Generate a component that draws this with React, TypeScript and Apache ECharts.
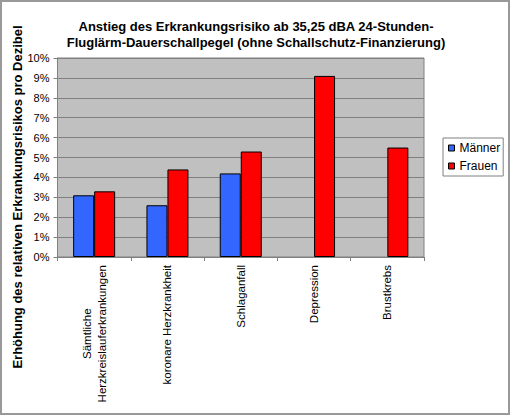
import React, { useEffect, useRef } from "react";
import * as echarts from "echarts";

const categories = [
  "Sämtliche\nHerzkreislauferkrankungen",
  "koronare Herzkrankheit",
  "Schlaganfall",
  "Depression",
  "Brustkrebs",
];
// percent increase per decibel
const maenner = [3.1, 2.6, 4.2, null, null];
const frauen = [3.3, 4.4, 5.3, 9.1, 5.5];

const FONT = '"Liberation Sans", Arial, sans-serif';

const App: React.FC = () => {
  const chartRef = useRef<HTMLDivElement>(null);

  useEffect(() => {
    document.body.style.margin = "0";
    if (!chartRef.current) return;
    const chart = echarts.init(chartRef.current, null, { renderer: "svg" });
    const option = {
      animation: false,
      backgroundColor: "#fff",
      textStyle: { fontFamily: FONT },
      title: {
        text: "Anstieg des Erkrankungsrisiko ab 35,25 dBA 24-Stunden-\nFluglärm-Dauerschallpegel (ohne Schallschutz-Finanzierung)",
        left: "center",
        top: 13,
        textStyle: {
          fontFamily: FONT,
          fontSize: 13,
          fontWeight: "bold",
          lineHeight: 16,
          color: "#000",
        },
      },
      legend: {
        orient: "vertical",
        left: 443,
        top: 138,
        padding: [3, 3, 3, 5],
        itemGap: 4,
        itemWidth: 6,
        itemHeight: 6,
        icon: "rect",
        borderColor: "#808080",
        borderWidth: 1,
        backgroundColor: "#fff",
        textStyle: { fontFamily: FONT, fontSize: 12, color: "#000", lineHeight: 14 },
        itemStyle: { borderColor: "#000", borderWidth: 1 },
        data: ["Männer", "Frauen"],
      },
      grid: {
        left: 57.5,
        right: 88,
        top: 58,
        bottom: 161,
        show: true,
        backgroundColor: "#c0c0c0",
        borderColor: "#808080",
        borderWidth: 1,
        outerBoundsMode: "none",
      },
      xAxis: {
        type: "category",
        data: categories,
        axisLine: { lineStyle: { color: "#808080" } },
        axisTick: { show: true, length: 4, lineStyle: { color: "#808080" } },
        axisLabel: {
          rotate: 90,
          margin: 8,
          interval: 0,
          color: "#000",
          fontFamily: FONT,
          fontSize: 11.5,
          formatter: (v: string) =>
            v.split("\n").map((l) => `{c|${l}}`).join("\n"),
          rich: {
            c: { align: "center", fontFamily: FONT, fontSize: 11.5, lineHeight: 15, color: "#000" },
          },
        },
      },
      yAxis: {
        type: "value",
        min: 0,
        max: 10,
        interval: 1,
        axisLine: { show: true, lineStyle: { color: "#808080" } },
        axisTick: { show: true, length: 4, lineStyle: { color: "#808080" } },
        axisLabel: {
          formatter: "{value}%",
          margin: 8,
          color: "#000",
          fontFamily: FONT,
          fontSize: 11,
        },
        splitLine: { lineStyle: { color: "#808080", width: 1 } },
      },
      series: [
        {
          name: "Männer",
          type: "bar",
          data: maenner,
          barWidth: 21,
          barGap: "0%",
          itemStyle: { color: "#3366ff", borderColor: "#000", borderWidth: 1 },
        },
        {
          name: "Frauen",
          type: "bar",
          data: frauen,
          barWidth: 21,
          barGap: "0%",
          itemStyle: { color: "#ff0000", borderColor: "#000", borderWidth: 1 },
        },
      ],
      graphic: [
        {
          type: "rect",
          z: -10,
          silent: true,
          shape: { x: 1, y: 1, width: 508, height: 413 },
          style: { fill: "none", stroke: "#999", lineWidth: 2 },
        },
        {
          type: "text",
          x: 17,
          y: 197,
          rotation: Math.PI / 2,
          style: {
            text: "Erhöhung des relativen Erkrankungsrisikos pro Dezibel",
            fontFamily: FONT,
            fontSize: 13,
            fontWeight: "bold",
            fill: "#000",
            align: "center",
            verticalAlign: "middle",
          },
        },
      ],
    };
    chart.setOption(option);
    return () => {
      chart.dispose();
    };
  }, []);

  return <div ref={chartRef} style={{ width: 512, height: 418 }} />;
};

export default App;
